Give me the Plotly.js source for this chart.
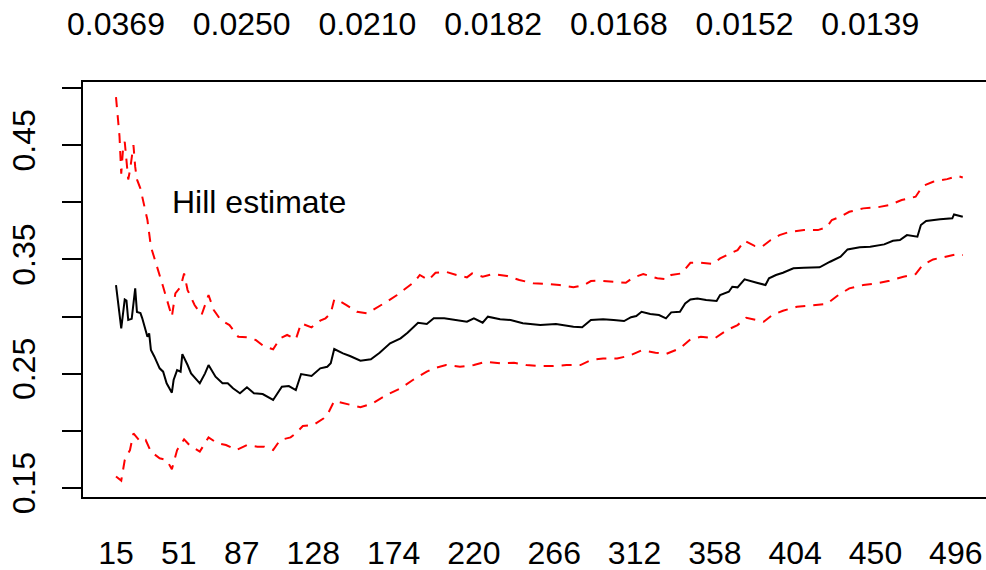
<!DOCTYPE html>
<html>
<head>
<meta charset="utf-8">
<script src="https://cdn.plot.ly/plotly-3.0.1.min.js"></script>
<style>html,body{margin:0;padding:0;background:#fff;}#chart{width:986px;height:570px;}</style>
</head>
<body>
<div id="chart"></div>
<script>
// Order statistics (k) and Hill estimate of xi
var kHill = [15,18,20,21,22,24,26,27,29,30,33,34,35,37,40,42,44,47,48,50,52,53,56,58,63,66,68,72,76,79,82,86,90,94,99,105,110,114,118,121,127,132,136,138,140,145,149,155,161,166,172,178,182,188,193,197,203,210,216,220,225,228,235,241,248,258,267,277,282,287,294,300,306,310,313,316,321,326,330,333,338,341,344,348,353,359,361,366,368,371,375,382,387,389,393,397,403,409,418,424,430,434,441,447,455,460,464,468,474,476,479,487,494,495,500];
var hill = [0.3276,0.2897,0.315,0.314,0.297,0.298,0.3247,0.304,0.303,0.2987,0.2824,0.2853,0.2707,0.2649,0.2547,0.2518,0.2416,0.2334,0.2445,0.2532,0.2518,0.2672,0.2576,0.2503,0.2416,0.2503,0.2576,0.2474,0.2416,0.2416,0.2372,0.2329,0.2381,0.2329,0.2322,0.2270,0.2386,0.2392,0.2357,0.2497,0.2480,0.2547,0.2561,0.2591,0.2716,0.2678,0.2655,0.2614,0.2626,0.2684,0.2766,0.281,0.2859,0.2946,0.2935,0.2985,0.2985,0.297,0.2955,0.2985,0.2946,0.2999,0.2976,0.297,0.2941,0.2926,0.2935,0.2911,0.2906,0.297,0.2976,0.297,0.2961,0.2995,0.3005,0.3042,0.3022,0.3014,0.2985,0.3037,0.3042,0.3115,0.315,0.3159,0.3145,0.3136,0.3189,0.3217,0.3261,0.3256,0.3326,0.3296,0.3276,0.3335,0.3364,0.3384,0.3422,0.3427,0.3431,0.348,0.3524,0.3588,0.3606,0.3611,0.3632,0.3664,0.367,0.3713,0.3699,0.3801,0.3836,0.3851,0.386,0.3894,0.3874];

// Upper confidence bound
var kUpper = [15,17,18,19,20,21,22,23,25,26,27,29,33,35,38,42,47,49,52,54,56,60,64,68,71,75,80,85,90,95,100,105,109,113,118,121,127,132,135,138,140,142,147,153,159,164,170,176,182,186,189,194,198,204,210,216,219,225,231,239,246,254,262,269,277,283,287,292,300,307,311,317,325,331,333,339,344,350,357,361,366,371,375,381,385,390,395,401,409,417,422,425,430,435,443,451,458,465,473,477,483,491,497,500];
var upper = [0.492,0.458,0.425,0.446,0.453,0.437,0.42,0.428,0.45,0.431,0.42,0.412,0.3845,0.3611,0.3466,0.3261,0.2999,0.3203,0.3261,0.3378,0.3232,0.3101,0.3014,0.3189,0.3057,0.297,0.2926,0.2824,0.2818,0.2795,0.2736,0.2714,0.281,0.2839,0.2801,0.2941,0.2906,0.2964,0.2985,0.3028,0.315,0.3145,0.3101,0.3042,0.3028,0.3072,0.313,0.3189,0.3261,0.3305,0.3364,0.332,0.3384,0.3392,0.3364,0.3343,0.3378,0.3349,0.3372,0.3355,0.332,0.3291,0.3285,0.3276,0.3256,0.3276,0.3311,0.3314,0.3305,0.3296,0.334,0.3372,0.3335,0.3326,0.3364,0.3378,0.3471,0.3471,0.346,0.3509,0.3547,0.3582,0.3664,0.3617,0.3611,0.367,0.3713,0.3742,0.3757,0.3757,0.3781,0.3845,0.3874,0.3917,0.3947,0.3956,0.3976,0.402,0.4049,0.4142,0.418,0.4203,0.423,0.4218];

// Lower confidence bound
var kLower = [15,18,20,23,25,29,32,35,40,44,47,50,54,57,63,68,73,78,84,90,96,100,105,109,115,118,122,128,134,136,140,147,155,162,170,178,185,193,197,204,212,220,227,235,243,250,258,265,273,281,287,294,302,309,316,324,330,338,344,350,358,365,371,376,386,391,397,405,413,422,428,435,443,451,458,466,473,477,483,491,497,500];
var lower = [0.16,0.1564,0.1745,0.1832,0.1978,0.1905,0.192,0.1818,0.176,0.1745,0.1664,0.1832,0.1926,0.1876,0.1818,0.1943,0.1891,0.1876,0.1832,0.1876,0.1861,0.1861,0.1832,0.192,0.1943,0.1978,0.2042,0.2051,0.211,0.2139,0.2262,0.2235,0.2206,0.2241,0.2314,0.2372,0.2445,0.2518,0.2547,0.2576,0.2561,0.2576,0.2605,0.2591,0.2596,0.2576,0.2567,0.2567,0.2576,0.2576,0.262,0.2634,0.2634,0.2657,0.2704,0.2684,0.2672,0.2722,0.2801,0.2824,0.281,0.2882,0.2926,0.299,0.2955,0.3014,0.3051,0.3086,0.3095,0.311,0.318,0.3247,0.3276,0.3291,0.3314,0.3349,0.3372,0.3451,0.35,0.3524,0.3547,0.3538];

// Axis labels
var bottomTickVals = [15,51,87,128,174,220,266,312,358,404,450,496];
var bottomTickText = ["15","51","87","128","174","220","266","312","358","404","450","496"];
var topTickVals = [15,87,159,231,303,375,447];
var topTickText = ["0.0369","0.0250","0.0210","0.0182","0.0168","0.0152","0.0139"];
var yTickVals = [0.15,0.20,0.25,0.30,0.35,0.40,0.45,0.50];
var yTickText = ["0.15","","0.25","","0.35","","0.45",""];

var FONT = "Liberation Sans, Arial, Helvetica, sans-serif";
var FS = 32;
var xr = [-3.9, 513.3];

var traces = [
  {x: kHill, y: hill, type: "scatter", mode: "lines", line: {color: "#000000", width: 2}, hoverinfo: "skip"},
  {x: kUpper, y: upper, type: "scatter", mode: "lines", line: {color: "#FF0000", width: 2, dash: "10px,8px"}, hoverinfo: "skip"},
  {x: kLower, y: lower, type: "scatter", mode: "lines", line: {color: "#FF0000", width: 2, dash: "10px,8px"}, hoverinfo: "skip"},
  {x: [15], y: [0.3], xaxis: "x2", type: "scatter", mode: "none", hoverinfo: "skip"}
];

var layout = {
  width: 986, height: 570,
  margin: {l: 83, r: 0, t: 82, b: 73},
  paper_bgcolor: "#ffffff", plot_bgcolor: "#ffffff",
  showlegend: false,
  font: {family: FONT, size: FS, color: "#000000"},
  xaxis: {
    range: xr, tickmode: "array", tickvals: bottomTickVals, ticktext: bottomTickText,
    ticks: "", showgrid: false, zeroline: false, showline: true, mirror: true,
    linecolor: "#000000", linewidth: 2, ticklabelstandoff: 27,
    tickfont: {family: FONT, size: FS, color: "#000000"}
  },
  xaxis2: {
    overlaying: "x", side: "top", range: xr, tickmode: "array",
    tickvals: topTickVals, ticktext: topTickText, ticks: "", showgrid: false,
    zeroline: false, showline: false, ticklabelstandoff: 40,
    tickfont: {family: FONT, size: FS, color: "#000000"}
  },
  yaxis: {
    range: [0.1421, 0.5053], tickmode: "array", tickvals: yTickVals, ticktext: yTickText,
    ticks: "outside", ticklen: 19, tickwidth: 2, tickcolor: "#000000",
    showgrid: false, zeroline: false, showline: true, mirror: false,
    linecolor: "#000000", linewidth: 2, tickangle: -90, ticklabelstandoff: 14,
    tickfont: {family: FONT, size: FS, color: "#000000"}
  },
  annotations: [{
    x: 97, y: 0.40, xref: "x", yref: "y", text: "Hill estimate", showarrow: false,
    xanchor: "center", yanchor: "middle", font: {family: FONT, size: FS, color: "#000000"}
  }]
};

Plotly.newPlot("chart", traces, layout, {displayModeBar: false, staticPlot: true});
</script>
</body>
</html>
